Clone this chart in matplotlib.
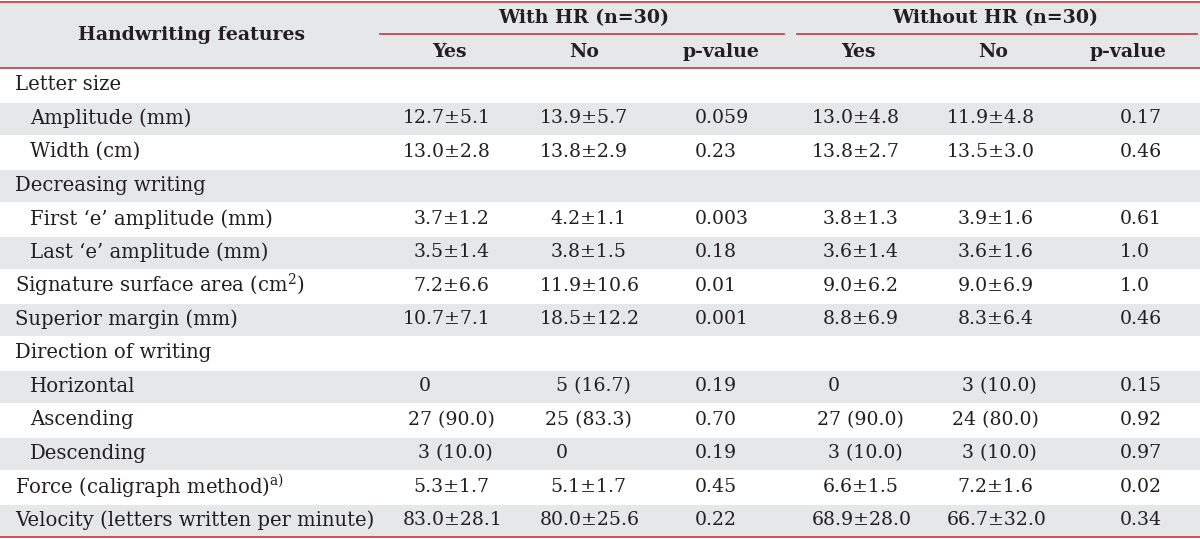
import matplotlib
matplotlib.use("Agg")
import matplotlib.pyplot as plt
from matplotlib.patches import Rectangle

plt.rcParams['font.family'] = ['DejaVu Serif']
plt.rcParams['mathtext.fontset'] = 'dejavuserif'

# ---- data ----
features = ["Letter size", "Amplitude (mm)", "Width (cm)", "Decreasing writing",
            "First \u2018e\u2019 amplitude (mm)", "Last \u2018e\u2019 amplitude (mm)",
            "Signature surface area (cm$^{2}$)", "Superior margin (mm)",
            "Direction of writing", "Horizontal", "Ascending", "Descending",
            "Force (caligraph method)$^{\\mathrm{a)}}$",
            "Velocity (letters written per minute)"]
indent = [0, 1, 1, 0, 1, 1, 0, 0, 0, 1, 1, 1, 0, 0]
with_yes = ["", "12.7±5.1", "13.0±2.8", "", "3.7±1.2", "3.5±1.4", "7.2±6.6", "10.7±7.1",
            "", "0", "27 (90.0)", "3 (10.0)", "5.3±1.7", "83.0±28.1"]
with_no = ["", "13.9±5.7", "13.8±2.9", "", "4.2±1.1", "3.8±1.5", "11.9±10.6", "18.5±12.2",
           "", "5 (16.7)", "25 (83.3)", "0", "5.1±1.7", "80.0±25.6"]
with_p = ["", "0.059", "0.23", "", "0.003", "0.18", "0.01", "0.001",
          "", "0.19", "0.70", "0.19", "0.45", "0.22"]
without_yes = ["", "13.0±4.8", "13.8±2.7", "", "3.8±1.3", "3.6±1.4", "9.0±6.2", "8.8±6.9",
               "", "0", "27 (90.0)", "3 (10.0)", "6.6±1.5", "68.9±28.0"]
without_no = ["", "11.9±4.8", "13.5±3.0", "", "3.9±1.6", "3.6±1.6", "9.0±6.9", "8.3±6.4",
              "", "3 (10.0)", "24 (80.0)", "3 (10.0)", "7.2±1.6", "66.7±32.0"]
without_p = ["", "0.17", "0.46", "", "0.61", "1.0", "1.0", "0.46",
             "", "0.15", "0.92", "0.97", "0.02", "0.34"]
group_labels = ["With HR (n=30)", "Without HR (n=30)"]
sub_labels = ["Yes", "No", "p-value", "Yes", "No", "p-value"]
first_header = "Handwriting features"

# ---- layout ----
W, H = 1200, 539
fig = plt.figure(figsize=(12, 5.39), dpi=100)
ax = fig.add_axes([0, 0, 1, 1])
ax.set_xlim(0, W)
ax.set_ylim(H, 0)
ax.axis('off')

red = '#c8464f'
grey = '#e6e7e9'
txt = '#231f20'
fs = 13.6
fs_lab = 14.1

header_top, header_mid, header_bot = 2, 33.5, 68
row_h = 33.5

ax.add_patch(Rectangle((0, header_top), W, header_bot - header_top, color=grey, lw=0, zorder=0))
for i in range(len(features)):
    y0 = header_bot + i * row_h
    if i % 2 == 1:
        ax.add_patch(Rectangle((0, y0 + 1), W, row_h - 1, color=grey, lw=0, zorder=0))

ax.plot([0, W], [header_top, header_top], color=red, lw=1.3, zorder=3)
ax.plot([0, W], [header_bot, header_bot], color=red, lw=1.3, zorder=3)
bottom = header_bot + len(features) * row_h
ax.plot([0, W], [bottom, bottom], color=red, lw=1.3, zorder=3)
ax.plot([380, 784], [header_mid, header_mid], color=red, lw=1.3, zorder=3)
ax.plot([797, 1197], [header_mid, header_mid], color=red, lw=1.3, zorder=3)

ax.text(191, 35, first_header, ha='center', va='center', fontsize=fs, fontweight='bold', color=txt)
for cx, lab in zip([584, 995], group_labels):
    ax.text(cx, 18, lab, ha='center', va='center', fontsize=fs, fontweight='bold', color=txt)
for cx, lab in zip([449, 584, 721, 858, 993, 1128], sub_labels):
    ax.text(cx, 52, lab, ha='center', va='center', fontsize=fs, fontweight='bold', color=txt)

columns = [with_yes, with_no, with_p, without_yes, without_no, without_p]
col_left = [403, 540, 695, 812, 947, 1120]
is_p = [False, False, True, False, False, True]
digit_w = 10.5

for i, name in enumerate(features):
    yc = header_bot + (i + 0.5) * row_h
    ax.text(15 + 15 * indent[i], yc, name, ha='left', va='center', fontsize=fs_lab, color=txt)
    for col, x0, p in zip(columns, col_left, is_p):
        s = col[i]
        if not s:
            continue
        x = x0
        if not p:
            lead = len(s.split('.')[0].split(' ')[0].split('±')[0])
            x += (2 - lead) * digit_w
            if '±' not in s:
                x += 5
        ax.text(x, yc, s, ha='left', va='center', fontsize=fs, color=txt)

fig.savefig('out.png', dpi=100)
